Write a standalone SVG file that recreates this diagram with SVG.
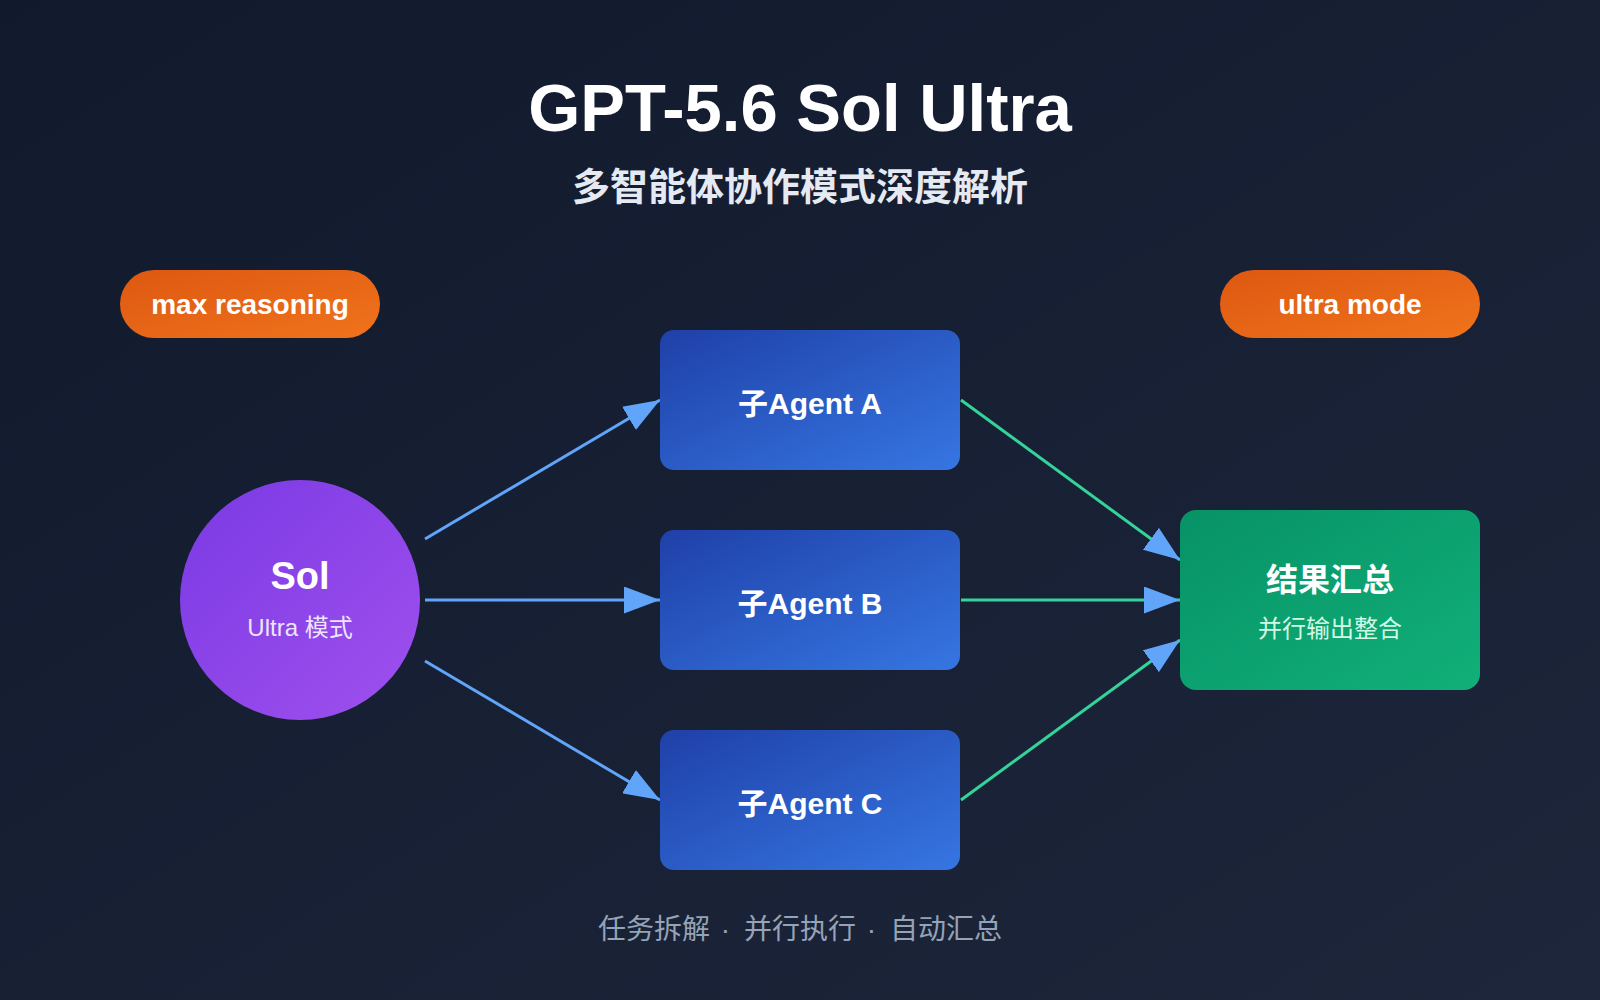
<svg xmlns="http://www.w3.org/2000/svg" width="1600" height="1000" viewBox="0 0 1600 1000">
  <defs>
    <linearGradient id="bg" x1="0" y1="0" x2="1" y2="1">
      <stop offset="0" stop-color="#111a2d"/>
      <stop offset="1" stop-color="#1d263a"/>
    </linearGradient>
    <linearGradient id="pill" x1="0" y1="0" x2="1" y2="1">
      <stop offset="0" stop-color="#dd5811"/>
      <stop offset="1" stop-color="#f0731c"/>
    </linearGradient>
    <linearGradient id="purple" x1="0" y1="0" x2="1" y2="1">
      <stop offset="0" stop-color="#7a3ae3"/>
      <stop offset="1" stop-color="#a050ee"/>
    </linearGradient>
    <linearGradient id="blue" x1="0" y1="0" x2="1" y2="1">
      <stop offset="0" stop-color="#1f40a8"/>
      <stop offset="1" stop-color="#3676e2"/>
    </linearGradient>
    <linearGradient id="green" x1="0" y1="0" x2="1" y2="1">
      <stop offset="0" stop-color="#079266"/>
      <stop offset="1" stop-color="#11b079"/>
    </linearGradient>
    <marker id="arrow" viewBox="0 0 12 9" refX="12" refY="4.5" markerWidth="12" markerHeight="9" markerUnits="strokeWidth" orient="auto">
      <path d="M0,0 L12,4.5 L0,9 z" fill="#60a5fa"/>
    </marker>
    <style>
      .sans { font-family: "Liberation Sans", "Noto Sans CJK SC", sans-serif; }
      .cjk { font-family: "Noto Sans CJK SC", "Liberation Sans", sans-serif; }
      .pilltext { font-family: "Liberation Sans", sans-serif; font-size: 28px; font-weight: bold; fill: #ffffff; text-anchor: middle; }
      .agent { font-family: "Liberation Sans", "Noto Sans CJK SC", sans-serif; font-size: 30px; font-weight: bold; fill: #ffffff; text-anchor: middle; }
      .blueline { stroke: #60a5fa; stroke-width: 3; fill: none; marker-end: url(#arrow); }
      .greenline { stroke: #34d399; stroke-width: 3; fill: none; marker-end: url(#arrow); }
      .sep { font-family: "Liberation Sans", sans-serif; letter-spacing: 3px; }
    </style>
  </defs>

  <rect x="0" y="0" width="1600" height="1000" fill="url(#bg)"/>

  <g id="title">
    <text x="800" y="131" class="sans" font-size="67" font-weight="bold" fill="#ffffff" text-anchor="middle">GPT-5.6 Sol Ultra</text>
    <text x="800" y="200" class="cjk" font-size="38" font-weight="bold" fill="#e5eaf2" text-anchor="middle">多智能体协作模式深度解析</text>
  </g>

  <g id="connectors">
    <line class="blueline" x1="425" y1="539" x2="660" y2="400"/>
    <line class="blueline" x1="425" y1="600" x2="660" y2="600"/>
    <line class="blueline" x1="425" y1="661" x2="660" y2="800"/>
    <line class="greenline" x1="961" y1="400" x2="1180" y2="560"/>
    <line class="greenline" x1="961" y1="600" x2="1180" y2="600"/>
    <line class="greenline" x1="961" y1="800" x2="1180" y2="640"/>
  </g>

  <g id="pill-max-reasoning">
    <rect x="120" y="270" width="260" height="68" rx="34" fill="url(#pill)"/>
    <text x="250" y="314" class="pilltext">max reasoning</text>
  </g>

  <g id="pill-ultra-mode">
    <rect x="1220" y="270" width="260" height="68" rx="34" fill="url(#pill)"/>
    <text x="1350" y="314" class="pilltext">ultra mode</text>
  </g>

  <g id="sol">
    <circle cx="300" cy="600" r="120" fill="url(#purple)"/>
    <text x="300" y="589" class="sans" font-size="38" font-weight="bold" fill="#ffffff" text-anchor="middle">Sol</text>
    <text x="300" y="636" class="sans" font-size="24" fill="#ede4fd" text-anchor="middle">Ultra 模式</text>
  </g>

  <g id="agent-a">
    <rect x="660" y="330" width="300" height="140" rx="14" fill="url(#blue)"/>
    <text x="810" y="414" class="agent">子Agent A</text>
  </g>

  <g id="agent-b">
    <rect x="660" y="530" width="300" height="140" rx="14" fill="url(#blue)"/>
    <text x="810" y="614" class="agent">子Agent B</text>
  </g>

  <g id="agent-c">
    <rect x="660" y="730" width="300" height="140" rx="14" fill="url(#blue)"/>
    <text x="810" y="814" class="agent">子Agent C</text>
  </g>

  <g id="result">
    <rect x="1180" y="510" width="300" height="180" rx="16" fill="url(#green)"/>
    <text x="1330" y="591" class="cjk" font-size="32" font-weight="bold" fill="#ffffff" text-anchor="middle">结果汇总</text>
    <text x="1330" y="637" class="cjk" font-size="24" fill="#d1fae5" text-anchor="middle">并行输出整合</text>
  </g>

  <g id="footer">
    <text x="800" y="939" class="cjk" font-size="28" fill="#94a3b8" text-anchor="middle">任务拆解<tspan class="sep"> · </tspan>并行执行<tspan class="sep"> · </tspan>自动汇总</text>
  </g>
</svg>
